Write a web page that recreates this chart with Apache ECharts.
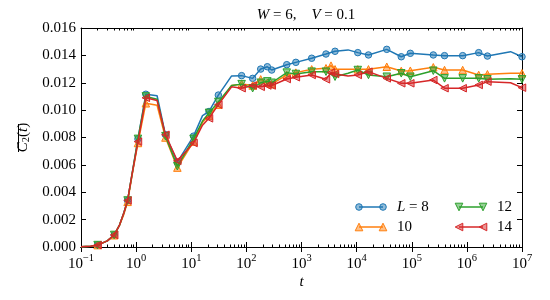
<!DOCTYPE html>
<html><head><meta charset="utf-8">
<script src="https://cdn.jsdelivr.net/npm/echarts@6/dist/echarts.min.js"></script>
<style>html,body{margin:0;padding:0;background:#fff}#c{width:550px;height:300px}</style>
</head><body><div id="c"></div>
<script>
const times = [0.1, 0.15, 0.2, 0.3, 0.4, 0.5, 0.6, 0.7, 0.85, 1.08, 1.5, 2.4, 3.4, 5.6, 11, 16, 21, 31, 54, 82, 130, 182, 240, 288, 540, 790, 1530, 2780, 3430, 4060, 7000, 10500, 16400, 35200, 64500, 94200, 246000, 393000, 839000, 1640000, 2360000, 6200000, 10000000];
const markFlags = [0,0,1,0,1,0,0,1,0,1,1,0,1,1,1,0,1,1,0,1,1,1,1,1,1,1,1,1,1,1,0,1,1,1,1,1,1,1,1,1,1,0,1];
const L8  = [0.00002, 0.00006, 0.00014, 0.00045, 0.00088, 0.0016, 0.0025, 0.0034, 0.0054, 0.0079, 0.01116, 0.01105, 0.0082, 0.0062, 0.0081, 0.0096, 0.0099, 0.0111, 0.0125, 0.01252, 0.01232, 0.0130, 0.01317, 0.01293, 0.01332, 0.01349, 0.01379, 0.0141, null, 0.0143, 0.0144, 0.0142, 0.01403, 0.01444, 0.0139, 0.01415, 0.01403, 0.01398, 0.01398, 0.0142, 0.01395, 0.01427, 0.0139];
const L10 = [0.00002, 0.00006, 0.00014, 0.00045, 0.00086, 0.0016, 0.0024, 0.0033, 0.0053, 0.0076, 0.0105, 0.01035, 0.0080, 0.0058, 0.0077, 0.0091, 0.0096, 0.0104, 0.0118, 0.0119, 0.0118, 0.01225, 0.0120, 0.0119, 0.01257, 0.01274, 0.01298, 0.01306, 0.01325, 0.01298, 0.01298, 0.01298, 0.01298, 0.01317, 0.01286, 0.01288, 0.01313, 0.01293, 0.01293, 0.01257, 0.01262, 0.0127, 0.01269];
const L12 = [0.00002, 0.00006, 0.00014, 0.00045, 0.00088, 0.0016, 0.0025, 0.0034, 0.0054, 0.0079, 0.0110, 0.0108, 0.0081, 0.0059, 0.0079, 0.0092, 0.0098, 0.0106, 0.0118, 0.0119, 0.0116, 0.0120, 0.0121, 0.0120, 0.01274, 0.01264, 0.01281, 0.01281, null, 0.01244, 0.0127, 0.01293, 0.01257, 0.01244, 0.01269, 0.01244, 0.01288, 0.01232, 0.01232, 0.01232, 0.01225, 0.0123, 0.01225];
const L14 = [0.00002, 0.00006, 0.00014, 0.00045, 0.00088, 0.0016, 0.0025, 0.0034, 0.0054, 0.0077, 0.0109, 0.0107, 0.0082, 0.0063, 0.0076, 0.0089, 0.0094, 0.0104, 0.0117, 0.0116, 0.0118, 0.0117, 0.0118, 0.0118, 0.01227, 0.0124, 0.01257, 0.01225, 0.01275, 0.01264, 0.0125, 0.01257, 0.01281, 0.01232, 0.01196, 0.01196, 0.0122, 0.0116, 0.0116, 0.01184, 0.01208, 0.0120, 0.01164];
const seriesNames = ['L = 8', '10', '12', '14'];
const xTickValues = [0.1, 1, 10, 100, 1000, 10000, 100000, 1000000, 10000000];
const yTickStep = 0.002;

const FONT = 'Liberation Serif';
const colors = ['#1f77b4', '#ff7f0e', '#2ca02c', '#d62728'];
const fills = ['rgba(31,119,180,0.5)', 'rgba(255,127,14,0.5)', 'rgba(44,160,44,0.5)', 'rgba(214,39,40,0.5)'];
const symbols = ['circle', 'triangle', 'triangle', 'triangle'];
const rotations = [0, 0, 180, 90];
const sizes = [6.5, 7.5, 7.5, 7.5];
const allData = [L8, L10, L12, L14];

const minorTicks = [];
for (let e = -1; e < 7; e++) for (let k = 2; k <= 9; k++) minorTicks.push(k * Math.pow(10, e));

const supFmt = v => {
  const e = Math.round(Math.log10(v));
  return '{b|10}{s|' + (e < 0 ? '\u2212' + (-e) : e) + '}';
};

const series = allData.map((vals, i) => ({
  name: seriesNames[i],
  type: 'line',
  xAxisIndex: 0, yAxisIndex: 0,
  data: times.map((t, j) => [t, vals[j]]),
  connectNulls: true,
  showSymbol: true,
  showAllSymbol: true,
  symbol: (v, p) => markFlags[p.dataIndex] ? symbols[i] : 'none',
  symbolSize: sizes[i],
  symbolRotate: rotations[i],
  lineStyle: { color: colors[i], width: 1.5 },
  itemStyle: { color: fills[i], borderColor: colors[i], borderWidth: 1 },
  emphasis: { disabled: true },
  animation: false,
  z: 2 + i
}));

function baseX(pos, withLabels, ticks, len) {
  return {
    type: 'log', logBase: 10, min: 0.1, max: 1e7, position: pos,
    axisLine: { show: true, lineStyle: { color: '#000', width: 1 } },
    axisTick: { show: true, inside: true, length: len, customValues: ticks, lineStyle: { color: '#000', width: 1 } },
    axisLabel: withLabels ? {
      show: true, customValues: xTickValues, formatter: supFmt, margin: 6, color: '#000',
      rich: {
        b: { fontFamily: FONT, fontSize: 15, color: '#000', verticalAlign: 'bottom' },
        s: { fontFamily: FONT, fontSize: 10.5, color: '#000', padding: [0, 0, 8, 0], verticalAlign: 'bottom' }
      }
    } : { show: false },
    splitLine: { show: false }, minorSplitLine: { show: false }
  };
}

const xAxes = [
  Object.assign(baseX('bottom', true, xTickValues, 5), {
    name: 't', nameLocation: 'middle', nameGap: 28, nameMoveOverlap: false,
    nameTextStyle: { fontFamily: FONT, fontStyle: 'italic', fontSize: 15, color: '#000' }
  }),
  baseX('top', false, xTickValues, 5),
  baseX('bottom', false, minorTicks, 2.5),
  baseX('top', false, minorTicks, 2.5)
];

function baseY(pos, withLabels) {
  return {
    type: 'value', min: 0, max: 0.016, interval: yTickStep, position: pos,
    axisLine: { show: true, lineStyle: { color: '#000', width: 1 } },
    axisTick: { show: true, inside: true, length: 5, lineStyle: { color: '#000' } },
    axisLabel: withLabels ? { show: true, formatter: v => v.toFixed(3), fontFamily: FONT, fontSize: 15, color: '#000', margin: 5 } : { show: false },
    splitLine: { show: false }
  };
}
const yAxes = [
  Object.assign(baseY('left', true), {
    name: '{c|C}{s|2}{p|(}{c|t}{p|)}', nameLocation: 'middle', nameGap: 49, nameRotate: 90, nameMoveOverlap: false,
    nameTextStyle: {
      rich: {
        c: { fontFamily: FONT, fontStyle: 'italic', fontSize: 15, color: '#000' },
        s: { fontFamily: FONT, fontSize: 10.5, color: '#000', padding: [7, 0, 0, 0] },
        p: { fontFamily: FONT, fontSize: 15, color: '#000' }
      }
    }
  }),
  baseY('right', false)
];

// legend drawn as graphic
const legendPos = [[359, 207], [359, 227], [459, 207], [459, 227]];
const legendGraphics = [];
function markerShape(i, cx, cy) {
  const st = { fill: fills[i], stroke: colors[i], lineWidth: 1 };
  if (i === 0) return { type: 'circle', shape: { cx, cy, r: 3.3 }, style: st, z: 10 };
  const s = 3.8;
  let pts;
  if (i === 1) pts = [[cx, cy - s], [cx + s, cy + s], [cx - s, cy + s]];
  else if (i === 2) pts = [[cx, cy + s], [cx + s, cy - s], [cx - s, cy - s]];
  else pts = [[cx - s, cy], [cx + s, cy - s], [cx + s, cy + s]];
  return { type: 'polygon', shape: { points: pts }, style: st, z: 10 };
}
seriesNames.forEach((nm, i) => {
  const [x0, y] = legendPos[i];
  const x1 = x0 + 24;
  legendGraphics.push({ type: 'line', shape: { x1: x0, y1: y, x2: x1, y2: y }, style: { stroke: colors[i], lineWidth: 1.5 }, z: 9 });
  legendGraphics.push(markerShape(i, x0, y));
  legendGraphics.push(markerShape(i, x1, y));
  const txt = i === 0 ? '{i|L} = 8' : nm;
  legendGraphics.push({
    type: 'text', x: x0 + 38, y: y, z: 10,
    style: {
      text: txt, fontFamily: FONT, fontSize: 15, fill: '#000', verticalAlign: 'middle', align: 'left',
      rich: { i: { fontFamily: FONT, fontStyle: 'italic', fontSize: 15, fill: '#000' } }
    }
  });
});
// overline of the y axis label
legendGraphics.push({ type: 'line', shape: { x1: 18.5, y1: 124, x2: 18.5, y2: 152 }, style: { stroke: '#000', lineWidth: 1 } });

const chart = echarts.init(document.getElementById('c'), null, { renderer: 'canvas' });
chart.setOption({
  animation: false,
  backgroundColor: '#fff',
  title: {
    text: '{i|W} = 6,    {i|V} = 0.1', left: 301, top: 3, textAlign: 'center',
    textStyle: {
      fontFamily: FONT, fontSize: 15, fontWeight: 'normal', color: '#000',
      rich: { i: { fontFamily: FONT, fontStyle: 'italic', fontSize: 15, color: '#000' } }
    }
  },
  grid: { left: 81, right: 28, top: 28, bottom: 53, containLabel: false },
  xAxis: xAxes,
  yAxis: yAxes,
  series: series,
  graphic: legendGraphics
});
</script></body></html>
